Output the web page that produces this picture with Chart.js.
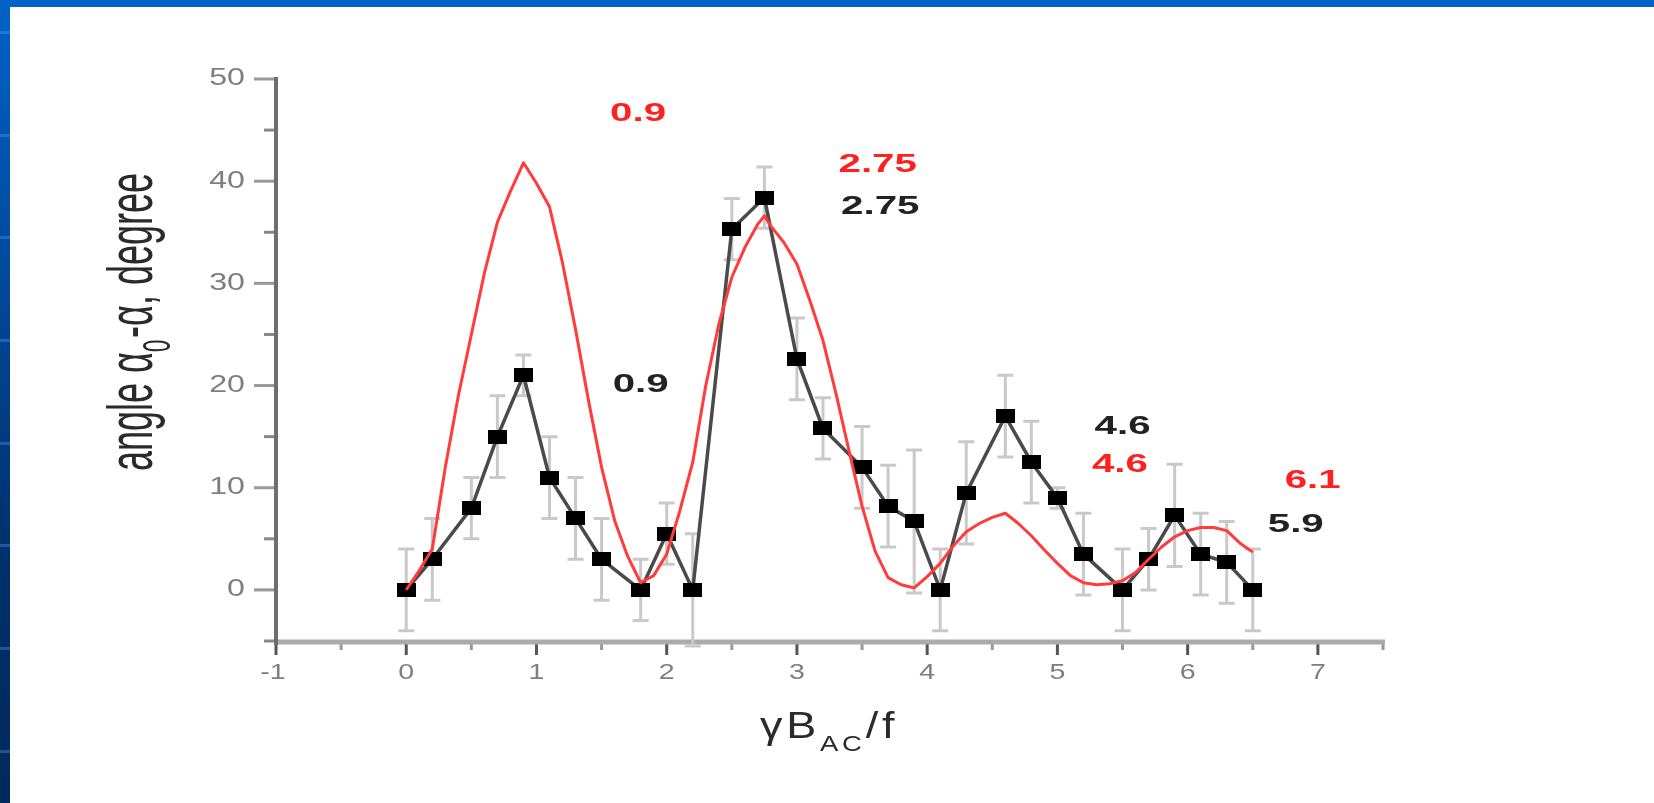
<!DOCTYPE html>
<html>
<head>
<meta charset="utf-8">
<script src="https://cdn.jsdelivr.net/npm/chart.js@4.4.1/dist/chart.umd.min.js"></script>
<style>
  html, body { margin: 0; padding: 0; background: #fff; overflow: hidden; }
  #wrap { position: relative; width: 1654px; height: 803px; }
  #chart { position: absolute; left: 0; top: 0; }
  .topbar { position: absolute; left: 0; top: 0; width: 1654px; height: 7px; background: #0062c6; }
  .leftbar {
    position: absolute; left: 0; top: 0; width: 10px; height: 803px;
    background:
      repeating-linear-gradient(to bottom, transparent 0 31px, rgba(90,160,240,0.35) 31px 34px, transparent 34px 102.7px),
      linear-gradient(to bottom, #0062c8, #00306a 70%, #002a5a);
  }
</style>
</head>
<body>
<div id="wrap">
  <canvas id="chart" width="1654" height="803"></canvas>
  <div class="topbar"></div>
  <div class="leftbar"></div>
</div>
<script>
// measured points (black squares with error bars)
const measX = [0, 0.2, 0.5, 0.7, 0.9, 1.1, 1.3, 1.5, 1.8, 2.0, 2.2, 2.5, 2.75, 3.0, 3.2, 3.5, 3.7, 3.9, 4.1, 4.3, 4.6, 4.8, 5.0, 5.2, 5.5, 5.7, 5.9, 6.1, 6.3, 6.5];
const measY = [0, 3, 8, 15, 21, 11, 7, 3, 0, 5.5, 0, 35.3, 38.4, 22.6, 15.8, 12, 8.2, 6.7, 0, 9.5, 17, 12.5, 9, 3.5, 0, 3, 7.3, 3.5, 2.7, 0];
const measErr = [4, 4, 3, 4, 2, 4, 4, 4, 3, 3, 5.5, 3, 3, 4, 3, 4, 4, 7, 4, 5, 4, 4, 1, 4, 4, 3, 5, 4, 4, 4];

// calculated curve (red)
const calcX = [0, 0.1, 0.2, 0.3, 0.4, 0.5, 0.6, 0.7, 0.8, 0.9, 1.0, 1.1, 1.2, 1.3, 1.4, 1.5, 1.6, 1.7, 1.8, 1.9,
               2.0, 2.1, 2.2, 2.3, 2.4, 2.5, 2.6, 2.7, 2.75, 2.8, 2.9, 3.0, 3.1, 3.2, 3.3, 3.4, 3.5, 3.6, 3.7, 3.8, 3.9,
               4.0, 4.1, 4.2, 4.3, 4.4, 4.5, 4.6, 4.7, 4.8, 4.9, 5.0, 5.1, 5.2, 5.3, 5.4, 5.5, 5.6, 5.7, 5.8, 5.9,
               6.0, 6.1, 6.2, 6.3, 6.4, 6.5];
const calcY = [0, 1.9, 4, 12, 19, 25, 31, 36, 39, 41.8, 39.8, 37.5, 32, 25.5, 18.5, 12, 6.8, 3.3, 0.7, 1.4,
               3.5, 7.7, 12.5, 20, 26, 30.6, 33.5, 35.8, 36.6, 35.6, 34, 31.9, 28.3, 24.4, 19.2, 13.6, 8.2, 3.8, 1.2, 0.5, 0.2,
               1.3, 2.6, 4.3, 5.7, 6.5, 7.1, 7.5, 6.5, 5.3, 3.9, 2.6, 1.4, 0.7, 0.5, 0.6, 0.9, 1.7, 3.0, 4.2, 5.2,
               5.8, 6.1, 6.1, 5.8, 4.6, 3.7];

// axis ticks
const xTicks = [-1, 0, 1, 2, 3, 4, 5, 6, 7];
const xMinorTicks = [-0.5, 0.5, 1.5, 2.5, 3.5, 4.5, 5.5, 6.5, 7.5];
const yTicks = [0, 10, 20, 30, 40, 50];
const yMinorTicks = [-5, 5, 15, 25, 35, 45];

// peak labels (placed in data coordinates)
const peakLabels = [
  { text: '0.9',  x: 1.78, y: 46.6, color: '#ff2020' },
  { text: '0.9',  x: 1.80, y: 20.1, color: '#222222' },
  { text: '2.75', x: 3.62, y: 41.6, color: '#ff2020' },
  { text: '2.75', x: 3.64, y: 37.5, color: '#222222' },
  { text: '4.6',  x: 5.50, y: 16.0, color: '#222222' },
  { text: '4.6',  x: 5.48, y: 12.2, color: '#ff2020' },
  { text: '6.1',  x: 6.96, y: 10.7, color: '#ff2020' },
  { text: '5.9',  x: 6.83, y: 6.4,  color: '#222222' }
];

// black rectangular marker
const marker = document.createElement('canvas');
marker.width = 19;
marker.height = 14;
const mctx = marker.getContext('2d');
mctx.fillStyle = '#000';
mctx.fillRect(0, 0, 19, 14);

function stretchedText(ctx, text, x, y, sx, align) {
    ctx.save();
    ctx.translate(x, y);
    ctx.scale(sx, 1);
    ctx.textAlign = align;
    ctx.fillText(text, 0, 0);
    ctx.restore();
}

const decor = {
    id: 'decor',
    beforeDatasetsDraw(chart) {
        const ctx = chart.ctx;
        const xs = chart.scales.x;
        const ys = chart.scales.y;
        const x0 = xs.getPixelForValue(-1);
        const x1 = xs.getPixelForValue(7.5);
        const yb = ys.getPixelForValue(-5);
        const yt = ys.getPixelForValue(50);

        ctx.save();
        ctx.lineCap = 'butt';

        // y ticks
        ctx.strokeStyle = '#999';
        ctx.lineWidth = 3;
        yTicks.forEach(v => {
            const p = ys.getPixelForValue(v);
            ctx.beginPath(); ctx.moveTo(x0 - 22, p); ctx.lineTo(x0, p); ctx.stroke();
        });
        ctx.strokeStyle = '#888';
        yMinorTicks.forEach(v => {
            const p = ys.getPixelForValue(v);
            ctx.beginPath(); ctx.moveTo(x0 - 12, p); ctx.lineTo(x0, p); ctx.stroke();
        });

        // x ticks
        ctx.strokeStyle = '#555';
        xTicks.forEach(v => {
            const p = xs.getPixelForValue(v);
            ctx.beginPath(); ctx.moveTo(p, yb); ctx.lineTo(p, yb + 14); ctx.stroke();
        });
        ctx.strokeStyle = '#999';
        xMinorTicks.forEach(v => {
            const p = xs.getPixelForValue(v);
            ctx.beginPath(); ctx.moveTo(p, yb); ctx.lineTo(p, yb + 9); ctx.stroke();
        });

        // axis lines
        ctx.strokeStyle = '#ababab';
        ctx.lineWidth = 5;
        ctx.beginPath(); ctx.moveTo(x0 - 2, yb + 1); ctx.lineTo(x1 + 2, yb + 1); ctx.stroke();
        ctx.strokeStyle = '#6e6e6e';
        ctx.lineWidth = 4;
        ctx.beginPath(); ctx.moveTo(x0, yt - 2); ctx.lineTo(x0, yb + 4); ctx.stroke();

        // tick labels
        ctx.fillStyle = '#7e7e7e';
        ctx.font = '23px "Liberation Sans", Arial, sans-serif';
        ctx.textBaseline = 'middle';
        yTicks.forEach(v => {
            stretchedText(ctx, String(v), x0 - 31, ys.getPixelForValue(v), 1.4, 'right');
        });
        ctx.font = '22px "Liberation Sans", Arial, sans-serif';
        xTicks.forEach(v => {
            stretchedText(ctx, String(v), xs.getPixelForValue(v) - (v < 0 ? 3 : 0), yb + 32, 1.3, 'center');
        });

        // y title
        ctx.fillStyle = '#2a2a2a';
        ctx.textBaseline = 'alphabetic';
        ctx.textAlign = 'left';
        const big = '36px "Liberation Sans", Arial, sans-serif';
        const small = '22px "Liberation Sans", Arial, sans-serif';
        ctx.font = big;
        const w1 = ctx.measureText('angle α').width;
        const w3 = ctx.measureText('-α, degree').width;
        ctx.font = small;
        const w2 = ctx.measureText('0').width + 2;
        const total = w1 + w2 + w3;
        ctx.save();
        ctx.translate(152, 322);
        ctx.rotate(-Math.PI / 2);
        ctx.scale(1, 1.75);
        let u = -total / 2;
        ctx.font = big; ctx.fillText('angle α', u, 0); u += w1;
        ctx.font = small; ctx.fillText('0', u, 10); u += w2;
        ctx.font = big; ctx.fillText('-α, degree', u, 0);
        ctx.restore();

        // x title
        ctx.save();
        ctx.translate(760, 738);
        ctx.scale(1.25, 1);
        ctx.letterSpacing = '3px';
        let v = 0;
        ctx.font = big; ctx.fillText('γB', v, 0); v += ctx.measureText('γB').width;
        ctx.font = small; ctx.fillText('AC', v, 13); v += ctx.measureText('AC').width;
        ctx.font = big; ctx.fillText('/f', v, 0);
        ctx.restore();

        // error bars
        ctx.strokeStyle = '#c9c9c9';
        ctx.lineWidth = 3;
        measX.forEach((mx, i) => {
            const px = xs.getPixelForValue(mx);
            const pTop = ys.getPixelForValue(measY[i] + measErr[i]);
            const pBot = ys.getPixelForValue(measY[i] - measErr[i]);
            ctx.beginPath();
            ctx.moveTo(px, pTop); ctx.lineTo(px, pBot);
            ctx.moveTo(px - 8, pTop); ctx.lineTo(px + 8, pTop);
            ctx.moveTo(px - 8, pBot); ctx.lineTo(px + 8, pBot);
            ctx.stroke();
        });
        ctx.restore();
    },
    afterDatasetsDraw(chart) {
        const ctx = chart.ctx;
        const xs = chart.scales.x;
        const ys = chart.scales.y;
        ctx.save();
        ctx.font = 'bold 26px "Liberation Sans", Arial, sans-serif';
        ctx.textBaseline = 'middle';
        peakLabels.forEach(l => {
            ctx.fillStyle = l.color;
            stretchedText(ctx, l.text, xs.getPixelForValue(l.x), ys.getPixelForValue(l.y), 1.55, 'center');
        });
        ctx.restore();
    }
};

const chart = new Chart(document.getElementById('chart').getContext('2d'), {
    type: 'scatter',
    data: {
        datasets: [
            {
                label: 'calculated',
                data: calcX.map((x, i) => ({ x: x, y: calcY[i] })),
                showLine: true,
                borderColor: '#ff3b3b',
                borderWidth: 3,
                pointRadius: 0,
                tension: 0,
                borderJoinStyle: 'round',
                order: 1
            },
            {
                label: 'measured',
                data: measX.map((x, i) => ({ x: x, y: measY[i] })),
                showLine: true,
                borderColor: '#4a4a4a',
                borderWidth: 3.5,
                tension: 0,
                pointStyle: marker,
                pointRadius: 6,
                order: 2
            }
        ]
    },
    options: {
        responsive: false,
        animation: false,
        devicePixelRatio: 1,
        layout: { padding: { left: 276, right: 271, top: 79, bottom: 162 } },
        plugins: {
            legend: { display: false },
            tooltip: { enabled: false }
        },
        scales: {
            x: { type: 'linear', min: -1, max: 7.5, display: false },
            y: { type: 'linear', min: -5, max: 50, display: false }
        }
    },
    plugins: [decor]
});
</script>
</body>
</html>
